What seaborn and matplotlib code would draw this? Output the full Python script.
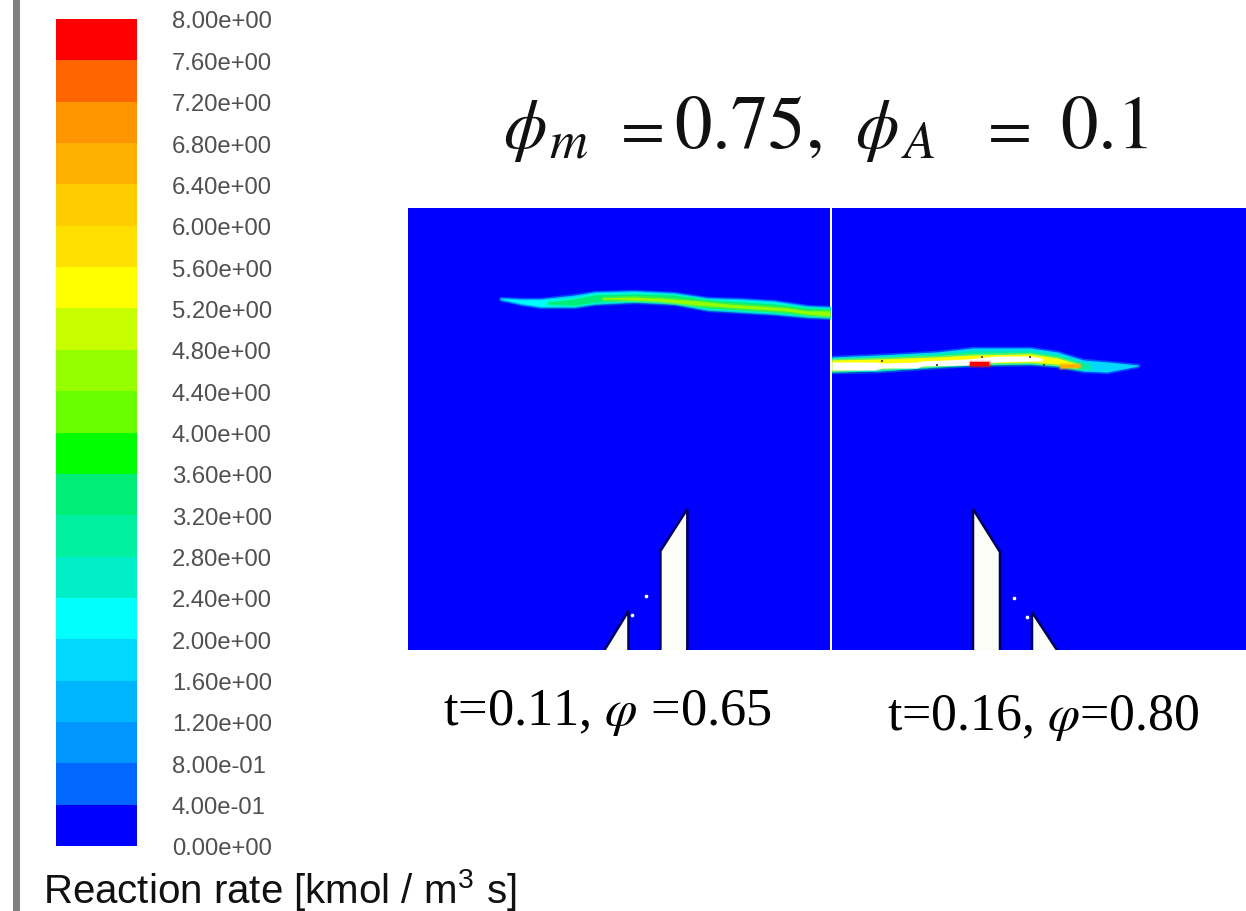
import numpy as np
import matplotlib
matplotlib.use("Agg")
import matplotlib.pyplot as plt
from matplotlib.colors import ListedColormap, BoundaryNorm
from matplotlib.patches import Rectangle
import seaborn as sns

W, H = 1246, 912

level_colors = ["#0000ff", "#0068ff", "#0095ff", "#00b5ff", "#00d8ff",
                "#00ffff", "#00eec8", "#00f0a0", "#00ee78", "#00ff00",
                "#6aff00", "#95ff00", "#c8ff00", "#ffff00", "#ffe000",
                "#ffcc00", "#ffb000", "#ff9500", "#ff6500", "#ff0000"]
level_edges = [0.0, 0.4, 0.8, 1.2, 1.6, 2.0, 2.4, 2.8, 3.2, 3.6, 4.0,
               4.4, 4.8, 5.2, 5.6, 6.0, 6.4, 6.8, 7.2, 7.6, 8.0]
level_mids = [0.2, 0.6, 1.0, 1.4, 1.8, 2.2, 2.6, 3.0, 3.4, 3.8,
              4.2, 4.6, 5.0, 5.4, 5.8, 6.2, 6.6, 7.0, 7.4, 7.8]
level_labels = ["0.00e+00", "4.00e-01", "8.00e-01", "1.20e+00", "1.60e+00",
                "2.00e+00", "2.40e+00", "2.80e+00", "3.20e+00", "3.60e+00",
                "4.00e+00", "4.40e+00", "4.80e+00", "5.20e+00", "5.60e+00",
                "6.00e+00", "6.40e+00", "6.80e+00", "7.20e+00", "7.60e+00",
                "8.00e+00"]

# Left flame (t=0.11): x stations with upper/lower limit of each contour band
L_x = [93, 113, 133, 167, 187, 227, 267, 300, 333, 367, 400, 423]
L_halo_top = [90, 91, 91, 87, 84, 83, 85, 90, 91, 93, 98, 99]
L_halo_bot = [91, 96, 99, 99, 96, 94, 96, 102, 104, 106, 109, 110]
L_cyan_top = [91, 92, 92, 89, 85, 84, 86, 91, 92, 94, 99, 100]
L_cyan_bot = [91, 95, 98, 98, 95, 93, 95, 101, 103, 105, 108, 109]
L_green_x = [140, 167, 187, 227, 267, 300, 333, 367, 400, 423]
L_green_top = [94, 91, 87, 86, 87, 92, 94, 96, 100, 101]
L_green_bot = [96, 97, 94, 92, 94, 100, 102, 104, 107, 108]
L_core_x = [195, 225, 250, 290, 320, 350, 380, 400, 423]
L_core_top = [90, 89, 90, 93, 96, 98, 100, 103, 103]
L_core_bot = [91, 92, 93, 97, 99, 101, 103, 106, 108]

# Right flame (t=0.16)
R_x = [0, 48, 105, 141, 198, 225, 251, 275, 306]
R_halo_top = [149, 147, 144, 140, 140, 144, 152, 154, 157]
R_halo_bot = [164, 163, 159, 157, 156, 158, 163, 164, 158]
R_green_x = [0, 48, 105, 141, 198, 225, 245, 258]
R_green_top = [151, 149, 146, 143, 143, 147, 153, 157]
R_green_bot = [163, 161, 158, 156, 155, 157, 161, 161]
R_yellow_x = [0, 48, 105, 141, 198, 225, 245]
R_yellow_top = [152, 151, 149, 147, 146, 150, 156]
R_yellow_bot = [162, 160, 157, 155, 154, 156, 159]
R_white_x = [0, 43, 50, 85, 90, 135, 165, 198, 210]
R_white_top = [154, 154, 155, 154, 153, 151, 148, 148, 150]
R_white_bot = [162, 162, 160, 160, 158, 157, 154, 153, 153]
R_red_x = [138, 157]
R_red_top = [154, 154]
R_red_bot = [158, 158]
R_orange_x = [228, 248]
R_orange_top = [156, 156]
R_orange_bot = [160, 159]
R_spots_x = [50, 105, 150, 198, 212]
R_spots_y = [153, 157, 149, 149, 157]

# Burner nozzle outlines (white walls), open at the bottom edge
L_big_x = [253, 253, 280, 280]
L_big_y = [442, 343, 301, 442]
L_small_x = [197, 221, 221]
L_small_y = [442, 403, 442]
R_big_x = [141, 141, 168, 168]
R_big_y = [442, 301, 344, 442]
R_small_x = [200, 200, 225]
R_small_y = [442, 404, 442]
L_dots_x = [239, 225]
L_dots_y = [388, 407]
R_dots_x = [182, 195]
R_dots_y = [390, 409]

cmap = ListedColormap(level_colors)
norm = BoundaryNorm(level_edges, cmap.N)

sns.set_theme(style="white")
plt.rcParams["font.family"] = ["Liberation Sans", "DejaVu Sans"]
plt.rcParams["mathtext.fontset"] = "stix"

fig = plt.figure(figsize=(W / 100, H / 100), dpi=100, facecolor="white")


def px_axes(x0, y0, x1, y1):
    return fig.add_axes([x0 / W, 1 - y1 / H, (x1 - x0) / W, (y1 - y0) / H])


def px_text(x, y, s, **kw):
    fig.text(x / W, 1 - y / H, s, **kw)


fig.add_artist(Rectangle((13 / W, 0), 7 / W, 1, transform=fig.transFigure,
                         facecolor="#808080", edgecolor="none"))

# Colour bar
cb_ax = px_axes(56, 20, 137, 847)
sns.heatmap(np.array(level_mids[::-1]).reshape(-1, 1), ax=cb_ax, cmap=cmap, norm=norm,
            cbar=False, xticklabels=False, yticklabels=False, linewidths=0)
cb_ax.set_yticks(np.arange(len(level_labels)))
cb_ax.set_yticklabels(level_labels[::-1], rotation=0, fontsize=17.2, color="#505050")
cb_ax.yaxis.tick_right()
cb_ax.tick_params(axis="y", length=0, pad=25, labelright=True, labelleft=False)
cb_ax.set_xlabel("")
cb_ax.set_ylabel("")


def band(ax, x, top, bot, value):
    c = cmap(norm(value))
    ax.fill_between(x, top, bot, color=c, linewidth=2.5, alpha=0.35, zorder=3)
    ax.fill_between(x, top, bot, color=c, linewidth=0, zorder=3)


def walls(ax, x, y, dx, dy):
    ax.fill(x, y, facecolor="#fdfdf8", edgecolor="none", zorder=4)
    ax.plot(x, y, color="#00005a", lw=1.8, solid_joinstyle="miter", zorder=5)
    ax.scatter(dx, dy, s=7, color="white", linewidths=0, zorder=4)


panel_rate = np.zeros((442, 423))
left = px_axes(408, 209, 830, 651)
sns.heatmap(panel_rate, ax=left, cmap=cmap, norm=norm, cbar=False,
            xticklabels=False, yticklabels=False)
band(left, L_x, L_halo_top, L_halo_bot, 1.4)
band(left, L_x, L_cyan_top, L_cyan_bot, 2.2)
band(left, L_green_x, L_green_top, L_green_bot, 3.4)
band(left, L_core_x, L_core_top, L_core_bot, 4.6)
left.plot(L_x[2:], np.array(L_halo_bot[2:]) + 1, color="#0000a0", lw=1, zorder=2)
walls(left, L_big_x, L_big_y, L_dots_x, L_dots_y)
walls(left, L_small_x, L_small_y, [], [])

right_rate = np.zeros((442, 415))
right = px_axes(832, 209, 1247, 651)
sns.heatmap(right_rate, ax=right, cmap=cmap, norm=norm, cbar=False,
            xticklabels=False, yticklabels=False)
band(right, R_x, R_halo_top, R_halo_bot, 1.8)
band(right, R_green_x, R_green_top, R_green_bot, 3.0)
band(right, R_yellow_x, R_yellow_top, R_yellow_bot, 5.4)
right.fill_between(R_white_x, R_white_top, R_white_bot, color="white", linewidth=0, zorder=3)
band(right, R_red_x, R_red_top, R_red_bot, 7.8)
band(right, R_orange_x, R_orange_top, R_orange_bot, 6.6)
right.scatter(R_spots_x, R_spots_y, s=3, marker="s", color="#505030", linewidths=0, zorder=3)
right.plot(R_x[:7], np.array(R_halo_bot[:7]) + 1, color="#0000a0", lw=1, zorder=2)
walls(right, R_big_x, R_big_y, R_dots_x, R_dots_y)
walls(right, R_small_x, R_small_y, [], [])

for ax in (left, right, cb_ax):
    for s in ax.spines.values():
        s.set_visible(False)

ink = "#111111"
px_text(503, 148, r"$\phi$", fontsize=50, color=ink, va="baseline")
px_text(549, 158, r"$m$", fontsize=38, color=ink, va="baseline")
px_text(611, 148, "$=$", fontsize=46, color=ink, va="baseline")
px_text(674, 148, "$0.75,$", fontsize=54, color=ink, va="baseline")
px_text(855, 148, r"$\phi$", fontsize=50, color=ink, va="baseline")
px_text(901, 158, r"$A$", fontsize=38, color=ink, va="baseline")
px_text(978, 148, "$=$", fontsize=46, color=ink, va="baseline")
px_text(1060, 148, "$0.1$", fontsize=54, color=ink, va="baseline")

px_text(443, 725, r"t=0.11, $\varphi$ =0.65", fontsize=37.7, family=["Liberation Serif"], color="black", va="baseline")
px_text(887, 730, r"t=0.16, $\varphi$=0.80", fontsize=37.3, family=["Liberation Serif"], color="black", va="baseline")
px_text(43, 903, r"Reaction rate [kmol / m$^{\mathregular{3}}$ s]", fontsize=29, color=ink, va="baseline")

fig.savefig("out.png", dpi=100, facecolor="white")
